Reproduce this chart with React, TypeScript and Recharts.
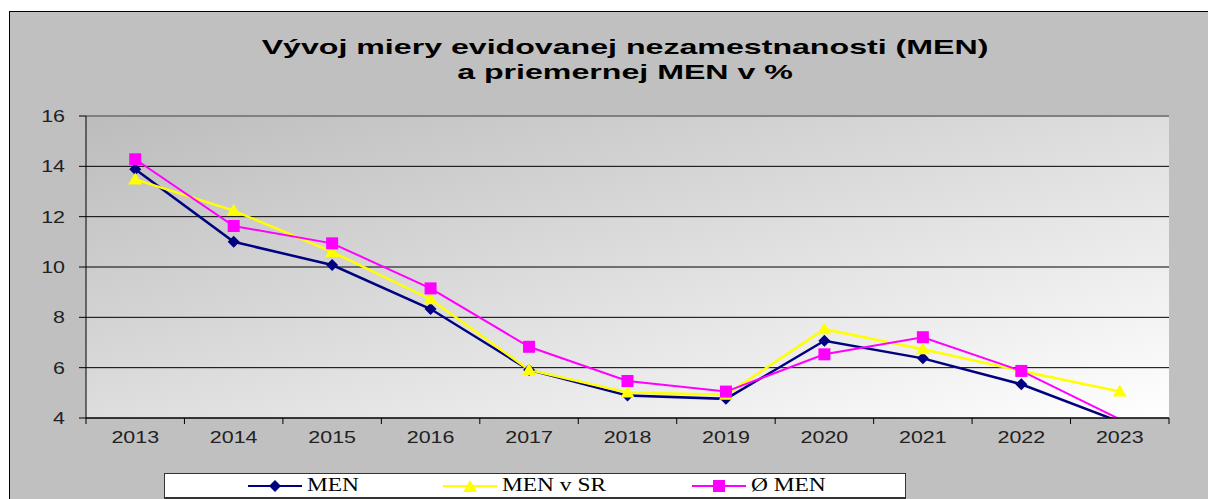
import React from 'react';
import {
  CartesianGrid,
  Line,
  LineChart,
  ReferenceLine,
  XAxis,
  YAxis,
} from 'recharts';

const years = ['2013', '2014', '2015', '2016', '2017', '2018', '2019', '2020', '2021', '2022', '2023'];
const menValues = [13.88, 11.0, 10.08, 8.33, 5.91, 4.89, 4.76, 7.07, 6.37, 5.34, 3.85];
const menSrValues = [13.48, 12.24, 10.6, 8.72, 5.91, 5.01, 4.92, 7.53, 6.73, 5.87, 5.05];
const avgMenValues = [14.28, 11.63, 10.94, 9.15, 6.83, 5.47, 5.05, 6.53, 7.21, 5.87, 3.95];
const yTicks = [4, 6, 8, 10, 12, 14, 16];
const Y_MIN = 4;

const titleLines = ['Vývoj miery evidovanej nezamestnanosti (MEN)', 'a priemernej MEN v %'];

const data = years.map((year, i) => ({
  year,
  men: menValues[i],
  menSr: menSrValues[i],
  avgMen: avgMenValues[i],
}));

const NAVY = '#000080';
const YELLOW = '#FFFF00';
const MAGENTA = '#FF00FF';
const STRETCH = 1.3;

// Excel does not draw markers that fall outside the axis range
const hidden = (p: any) => p.cx == null || p.cy == null || (p.value != null && p.value < Y_MIN);

const Diamond = (p: any) =>
  hidden(p) ? null : (
    <path d={`M${p.cx},${p.cy - 6}L${p.cx + 6},${p.cy}L${p.cx},${p.cy + 6}L${p.cx - 6},${p.cy}Z`} fill={NAVY} />
  );

const Triangle = (p: any) =>
  hidden(p) ? null : (
    <path d={`M${p.cx},${p.cy - 7}L${p.cx + 7},${p.cy + 5}L${p.cx - 7},${p.cy + 5}Z`} fill={YELLOW} />
  );

const Square = (p: any) =>
  hidden(p) ? null : <rect x={p.cx - 6} y={p.cy - 6} width={12} height={12} fill={MAGENTA} />;

const XTick = (props: any) => {
  const { x, y, payload, width, visibleTicksCount, index } = props;
  const half = payload?.offset || width / visibleTicksCount / 2;
  return (
    <g>
      <line x1={x - half} x2={x - half} y1={y} y2={y + 6} stroke="#000" />
      {index === visibleTicksCount - 1 && (
        <line x1={x + half} x2={x + half} y1={y} y2={y + 6} stroke="#000" />
      )}
      <text
        transform={`translate(${x},${y + 25}) scale(${STRETCH},1)`}
        textAnchor="middle"
        fontFamily="Arial, 'Liberation Sans', sans-serif"
        fontSize={16.5}
        fill="#222"
      >
        {payload.value}
      </text>
    </g>
  );
};

const YTick = (props: any) => {
  const { x, y, payload } = props;
  return (
    <text
      transform={`translate(${x},${y + 6}) scale(${STRETCH},1)`}
      textAnchor="end"
      fontFamily="Arial, 'Liberation Sans', sans-serif"
      fontSize={16.5}
      fill="#222"
    >
      {payload.value}
    </text>
  );
};

const legendItems = [
  { label: 'MEN', color: NAVY, shape: 'diamond', left: 248 },
  { label: 'MEN v SR', color: YELLOW, shape: 'triangle', left: 443 },
  { label: 'Ø MEN', color: MAGENTA, shape: 'square', left: 692 },
];

function LegendBox() {
  return (
    <div
      style={{
        position: 'absolute',
        left: 164,
        top: 473,
        width: 740,
        height: 23,
        background: '#fff',
        border: '1px solid #333',
        borderBottomWidth: 2,
      }}
    >
      {legendItems.map((item) => (
        <div
          key={item.label}
          style={{ position: 'absolute', left: item.left - 165, top: 0, height: 23, display: 'flex', alignItems: 'center' }}
        >
          <svg width={56} height={20}>
            <line x1={0} x2={54} y1={10} y2={10} stroke={item.color} strokeWidth={2} />
            {item.shape === 'diamond' && <Diamond cx={27} cy={10} />}
            {item.shape === 'triangle' && <Triangle cx={27} cy={11} />}
            {item.shape === 'square' && <Square cx={27} cy={10} />}
          </svg>
          <span
            style={{
              display: 'inline-block',
              marginLeft: 3,
              fontFamily: "'Times New Roman', 'Liberation Serif', serif",
              fontSize: 18,
              color: '#000',
              transform: `scaleX(${STRETCH})`,
              transformOrigin: 'left center',
              whiteSpace: 'nowrap',
            }}
          >
            {item.label}
          </span>
        </div>
      ))}
    </div>
  );
}

export default function App() {
  return (
    <div style={{ position: 'absolute', left: 0, top: 0, width: 1208, height: 499, overflow: 'hidden', background: '#fff' }}>
      <div
        style={{
          position: 'absolute',
          left: 9,
          top: 11,
          width: 1210,
          height: 500,
          background: '#c0c0c0',
          borderLeft: '1px solid #000',
          borderTop: '1px solid #000',
        }}
      />
      {titleLines.map((line, i) => (
        <div
          key={line}
          style={{
            position: 'absolute',
            left: 0,
            width: 1250,
            top: 35 + i * 25,
            textAlign: 'center',
            fontFamily: "Arial, 'Liberation Sans', sans-serif",
            fontWeight: 'bold',
            fontSize: 21,
            lineHeight: '24px',
            color: '#000',
            transform: 'scaleX(1.53)',
            transformOrigin: '625px 0',
            whiteSpace: 'nowrap',
          }}
        >
          {line}
        </div>
      ))}
      <div style={{ position: 'absolute', left: 0, top: 0 }}>
        <LineChart width={1208} height={499} data={data} margin={{ top: 116, right: 39, left: 36, bottom: 51 }}>
          <defs>
            <linearGradient id="plotBg" x1="0" y1="0" x2="1" y2="1">
              <stop offset="0%" stopColor="#bcbcbc" />
              <stop offset="100%" stopColor="#ffffff" />
            </linearGradient>
          </defs>
          <CartesianGrid vertical={false} stroke="#000" fill="url(#plotBg)" fillOpacity={1} />
          <XAxis
            dataKey="year"
            scale="band"
            height={30}
            axisLine={{ stroke: '#000' }}
            tickLine={false}
            tickSize={0}
            tickMargin={0}
            interval={0}
            tick={<XTick />}
          />
          <YAxis
            width={50}
            domain={[Y_MIN, 16]}
            ticks={yTicks}
            allowDataOverflow
            axisLine={{ stroke: '#000' }}
            tickLine={{ stroke: '#000' }}
            tickSize={7}
            tickMargin={14}
            tick={<YTick />}
          />
          <YAxis yAxisId="right" orientation="right" width={0} tick={false} tickLine={false} axisLine={{ stroke: '#808080', strokeWidth: 2 }} />
          <ReferenceLine y={16} stroke="#808080" strokeWidth={2} />
          <Line dataKey="men" stroke={NAVY} strokeWidth={2.5} dot={<Diamond />} isAnimationActive={false} />
          <Line dataKey="menSr" stroke={YELLOW} strokeWidth={2.5} dot={<Triangle />} isAnimationActive={false} />
          <Line dataKey="avgMen" stroke={MAGENTA} strokeWidth={2} dot={<Square />} isAnimationActive={false} />
        </LineChart>
      </div>
      <LegendBox />
    </div>
  );
}
